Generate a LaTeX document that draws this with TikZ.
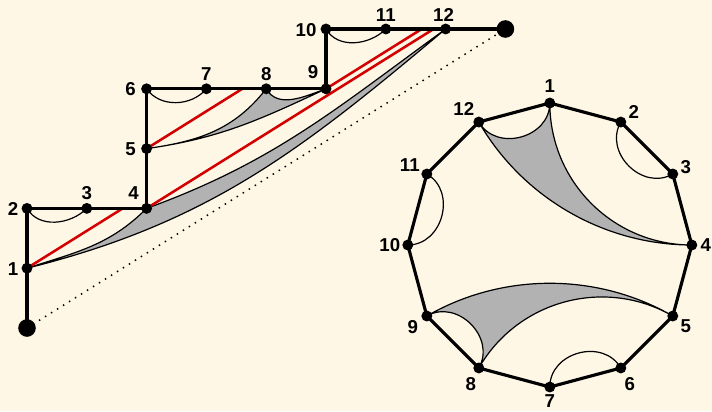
\documentclass[tikz,border=0pt]{standalone}
\usepackage{fontspec}
\setmainfont{Liberation Sans}
\usetikzlibrary{calc}
\definecolor{bgcol}{RGB}{254,247,230}
\definecolor{shade}{RGB}{178,178,178}
\definecolor{redline}{RGB}{210,0,0}
\pgfdeclarelayer{back}
\pgfsetlayers{back,main}
\begin{document}
\begin{tikzpicture}[x=0.75pt,y=0.75pt,
  dot/.style={circle,fill=black,inner sep=0pt,minimum size=8.2pt},
  bigdot/.style={circle,fill=black,inner sep=0pt,minimum size=13.2pt},
  lab/.style={font=\bfseries\fontsize{14}{16}\selectfont,inner sep=0pt},
  thickline/.style={line width=2.35pt},
  thinline/.style={line width=0.9pt},
  redl/.style={draw=redline,line width=1.9pt},
  region/.style={fill=shade,draw=black,line width=0.9pt,line join=round}]
\useasboundingbox (0,-411) rectangle (712,0);
% ---------- left staircase ----------
\node[bigdot] (b0) at (27,-328) {};
\node[dot] (n1) at (27,-268.2) {};
\node[dot] (n2) at (27,-208.4) {};
\node[dot] (n3) at (86.8,-208.4) {};
\node[dot] (n4) at (146.6,-208.4) {};
\node[dot] (n5) at (146.6,-148.6) {};
\node[dot] (n6) at (146.6,-88.8) {};
\node[dot] (n7) at (206.4,-88.8) {};
\node[dot] (n8) at (266.2,-88.8) {};
\node[dot] (n9) at (326,-88.8) {};
\node[dot] (n10) at (326,-29) {};
\node[dot] (n11) at (385.8,-29) {};
\node[dot] (n12) at (445.6,-29) {};
\node[bigdot] (b1) at (505.4,-29) {};
\coordinate (r1) at (122.7,-208.4);
\coordinate (r5) at (242.3,-88.8);
\coordinate (r4) at (433.6,-29);
\coordinate (r9) at (421.7,-29);
\node[lab] (l1) at ($(n1)+(-14,-1)$) {1};
\node[lab] (l2) at ($(n2)+(-14,-1)$) {2};
\node[lab] (l3) at ($(n3)+(0,15)$) {3};
\node[lab] (l4) at ($(n4)+(-13,15)$) {4};
\node[lab] (l5) at ($(n5)+(-16,-1)$) {5};
\node[lab] (l6) at ($(n6)+(-16,0)$) {6};
\node[lab] (l7) at ($(n7)+(0,15)$) {7};
\node[lab] (l8) at ($(n8)+(0,15)$) {8};
\node[lab] (l9) at ($(n9)+(-13,17)$) {9};
\node[lab] (l10) at ($(n10)+(-20,-1)$) {10};
\node[lab] (l11) at ($(n11)+(0,14)$) {11};
\node[lab] (l12) at ($(n12)+(-2,14)$) {12};
% ---------- right polygon ----------
\foreach \k in {1,...,12}{
  \node[dot] (p\k) at ({549.8+142*cos(120-30*\k)},{-245+142*sin(120-30*\k)}) {};
}
\node[lab] (q1) at ($(p1)+(0,17)$) {1};
\node[lab] (q2) at ($(p2)+(13,10)$) {2};
\node[lab] (q3) at ($(p3)+(13,7)$) {3};
\node[lab] (q4) at ($(p4)+(14,0)$) {4};
\node[lab] (q5) at ($(p5)+(13,-10)$) {5};
\node[lab] (q6) at ($(p6)+(9,-16)$) {6};
\node[lab] (q7) at ($(p7)+(0,-14.5)$) {7};
\node[lab] (q8) at ($(p8)+(-8,-16)$) {8};
\node[lab] (q9) at ($(p9)+(-14,-11)$) {9};
\node[lab] (q10) at ($(p10)+(-18,0)$) {10};
\node[lab] (q11) at ($(p11)+(-17,9)$) {11};
\node[lab] (q12) at ($(p12)+(-15,13)$) {12};
\begin{pgfonlayer}{back}
\fill[bgcol] (0,-411) rectangle (712,0);
% left shaded regions
\draw[region] (n1.center) to[out=18,in=225] (n4.center) to[out=20,in=216] (n12.center) to[out=220,in=14] (n1.center) -- cycle;
\draw[region] (n5.center) to[out=8,in=232] (n8.center) to[out=-60,in=200] (n9.center) to[out=205,in=8] (n5.center) -- cycle;
% left thin arcs
\draw[thinline] (n2.center) to[out=-60,in=225] (n3.center);
\draw[thinline] (n6.center) to[out=-55,in=230] (n7.center);
\draw[thinline] (n10.center) to[out=-60,in=225] (n11.center);
% red lines
\draw[redl] (n1.center) -- (r1);
\draw[redl] (n5.center) -- (r5);
\draw[redl] (n4.center) -- (r4);
\draw[redl] (n9.center) -- (r9);
% dotted diagonal
\draw[line width=1.1pt,dash pattern=on 1.1pt off 4.2pt] (b0.center) -- (b1.center);
% staircase
\draw[thickline] (b0.center) -- (n1.center) -- (n2.center) -- (n4.center) -- (n6.center) -- (n9.center) -- (n10.center) -- (b1.center);
% right shaded regions
\draw[region] (p12.center) to[out=300,in=270,looseness=1.22] (p1.center) to[out=270,in=180] (p4.center) to[out=180,in=300,looseness=0.91] (p12.center) -- cycle;
\draw[region] (p5.center) to[out=150,in=30,looseness=0.91] (p9.center) to[out=30,in=60,looseness=1.22] (p8.center) to[out=60,in=150] (p5.center) -- cycle;
% right thin arcs
\draw[thinline] (p2.center) to[out=240,in=210,looseness=1.22] (p3.center);
\draw[thinline] (p10.center) to[out=0,in=330,looseness=1.22] (p11.center);
\draw[thinline] (p6.center) to[out=120,in=90,looseness=1.22] (p7.center);
% polygon
\draw[thickline] (p1.center) -- (p2.center) -- (p3.center) -- (p4.center) -- (p5.center) -- (p6.center) -- (p7.center) -- (p8.center) -- (p9.center) -- (p10.center) -- (p11.center) -- (p12.center) -- cycle;
\end{pgfonlayer}
\end{tikzpicture}
\end{document}
